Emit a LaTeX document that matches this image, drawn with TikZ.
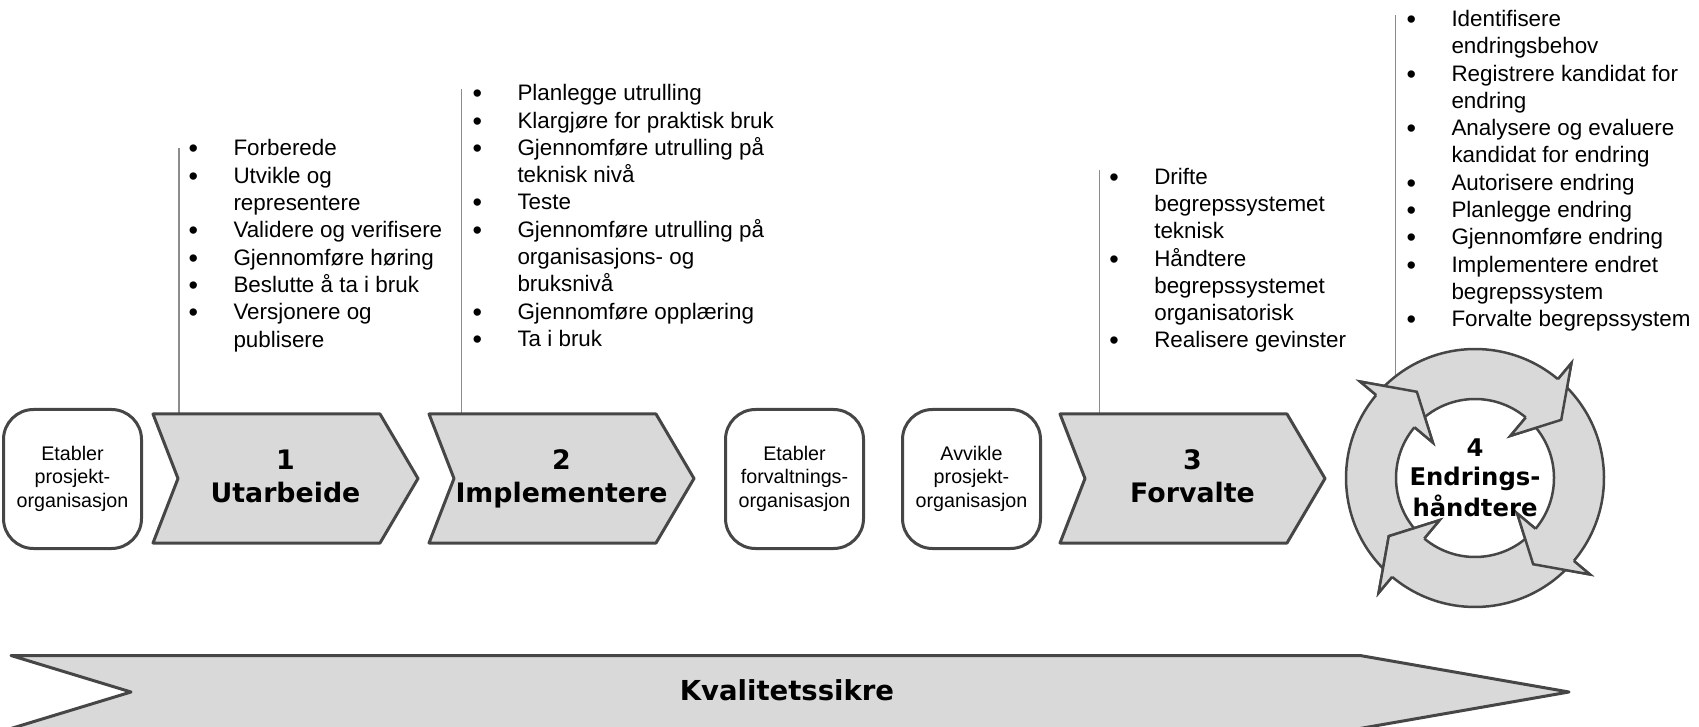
\documentclass[tikz,border=0pt]{standalone}
\usepackage{fontspec}
\setmainfont{Liberation Sans}
\newfontfamily\headfont{DejaVu Sans}
\definecolor{shapefill}{HTML}{D9D9D9}
\definecolor{edgegray}{HTML}{464646}
\definecolor{leadergray}{HTML}{8C8C8C}
% bullet with a fixed indent before the item text
\newcommand\bulletmark{\makebox[45pt][l]{\raisebox{-2pt}{\fontsize{27}{27}\selectfont\char"2022}}}
\tikzset{
  stepshape/.style={fill=shapefill, draw=edgegray, line width=3pt, line join=round},
  ringarrow/.style={fill=shapefill, draw=edgegray, line width=2.5pt, line join=miter},
  roundbox/.style={draw=edgegray, fill=white, line width=3pt, rounded corners=30pt,
    minimum width=138pt, minimum height=139pt, inner sep=0pt,
    font=\fontsize{19.7}{23.6}\selectfont},
  leaderline/.style={draw=leadergray, line width=1.3pt},
  steplabel/.style={font=\headfont\bfseries\fontsize{26.8}{33}\selectfont, inner sep=0pt, anchor=base},
  ringlabel/.style={font=\headfont\bfseries\fontsize{24.3}{29.2}\selectfont, inner sep=0pt, anchor=base},
  listtext/.style={anchor=base west, inner sep=0pt, font=\fontsize{22.4}{27.3}\selectfont},
}
\begin{document}
\begin{tikzpicture}[x=1pt, y=1pt]
\useasboundingbox (0,0) rectangle (1699,726);

% leader lines from the task lists down to their phases
\coordinate (lead1) at (179,578);   \coordinate (foot1) at (179,312);
\coordinate (lead2) at (461.6,637); \coordinate (foot2) at (461.6,312);
\coordinate (lead3) at (1099.5,556);\coordinate (foot3) at (1099.5,312);
\coordinate (lead4) at (1395.5,711);\coordinate (foot4) at (1395.5,340);
\draw[leaderline] (lead1) -- (foot1);
\draw[leaderline] (lead2) -- (foot2);
\draw[leaderline] (lead3) -- (foot3);
\draw[leaderline] (lead4) -- (foot4);

% task lists
\node[listtext] (list1) at (188.3,570) {\begin{tabular}[t]{@{}l@{}l@{}}
\bulletmark & Forberede\\
\bulletmark & Utvikle og\\
 & representere\\
\bulletmark & Validere og verifisere\\
\bulletmark & Gjennomføre høring\\
\bulletmark & Beslutte å ta i bruk\\
\bulletmark & Versjonere og\\
 & publisere
\end{tabular}};
\node[listtext] (list2) at (472.3,625.2) {\begin{tabular}[t]{@{}l@{}l@{}}
\bulletmark & Planlegge utrulling\\
\bulletmark & Klargjøre for praktisk bruk\\
\bulletmark & Gjennomføre utrulling på\\
 & teknisk nivå\\
\bulletmark & Teste\\
\bulletmark & Gjennomføre utrulling på\\
 & organisasjons- og\\
 & bruksnivå\\
\bulletmark & Gjennomføre opplæring\\
\bulletmark & Ta i bruk
\end{tabular}};
\node[listtext] (list3) at (1109.1,541.8) {\begin{tabular}[t]{@{}l@{}l@{}}
\bulletmark & Drifte\\
 & begrepssystemet\\
 & teknisk\\
\bulletmark & Håndtere\\
 & begrepssystemet\\
 & organisatorisk\\
\bulletmark & Realisere gevinster
\end{tabular}};
\node[listtext] (list4) at (1406.3,699.5) {\begin{tabular}[t]{@{}l@{}l@{}}
\bulletmark & Identifisere\\
 & endringsbehov\\
\bulletmark & Registrere kandidat for\\
 & endring\\
\bulletmark & Analysere og evaluere\\
 & kandidat for endring\\
\bulletmark & Autorisere endring\\
\bulletmark & Planlegge endring\\
\bulletmark & Gjennomføre endring\\
\bulletmark & Implementere endret\\
 & begrepssystem\\
\bulletmark & Forvalte begrepssystem
\end{tabular}};

% organisational milestones
\node[roundbox] (etabp) at (72.5,247) {\begin{tabular}{@{}c@{}}Etabler\\prosjekt-\\organisasjon\end{tabular}};
\node[roundbox] (etabf) at (794.5,247) {\begin{tabular}{@{}c@{}}Etabler\\forvaltnings-\\organisasjon\end{tabular}};
\node[roundbox] (avvik) at (971.5,247) {\begin{tabular}{@{}c@{}}Avvikle\\prosjekt-\\organisasjon\end{tabular}};

% phase chevrons
\foreach \x in {153,429,1060}{
  \path[stepshape] (\x,312) -- ++(227,0) -- ++(38,-64.5) -- ++(-38,-64.5)
    -- ++(-227,0) -- ++(25,64.5) -- cycle;
}
\node[steplabel] (phase1) at (285.5,256) {\begin{tabular}[t]{@{}c@{}}1\\Utarbeide\end{tabular}};
\node[steplabel] (phase2) at (561.5,256) {\begin{tabular}[t]{@{}c@{}}2\\Implementere\end{tabular}};
\node[steplabel] (phase3) at (1192.5,256) {\begin{tabular}[t]{@{}c@{}}3\\Forvalte\end{tabular}};

% change-management cycle: four circular arrows
\begin{scope}[shift={(1475,248)}]
  \foreach \b in {140,50,-40,-130}{
    \pgfmathsetmacro\tl{\b+86.5}
    \pgfmathsetmacro\tp{\b-16}
    \path[ringarrow] (\tl:129) arc[start angle=\tl, end angle=\b, radius=129]
      -- (\b:150) -- (\tp:104) -- (\b:55) -- (\b:79)
      arc[start angle=\b, end angle=\tl, radius=79] -- cycle;
  }
  % heads again on top of the following tails
  \foreach \b in {140,50,-40,-130}{
    \pgfmathsetmacro\tp{\b-16}
    \fill[shapefill] (\b:150) -- (\tp:104) -- (\b:55) -- cycle;
    \draw[edgegray, line width=2.5pt, line join=miter] (\b:129) -- (\b:150) -- (\tp:104) -- (\b:55) -- (\b:79);
  }
\end{scope}
\node[ringlabel] (phase4) at (1475,269.3) {\begin{tabular}[t]{@{}c@{}}4\\Endrings-\\håndtere\end{tabular}};

% quality assurance arrow along the bottom
\path[stepshape] (11,70.5) -- (1360,70.5) -- (1569,34) -- (1360,-2.5) -- (11,-2.5) -- (131,34) -- cycle;
\node[font=\headfont\bfseries\fontsize{27.5}{33}\selectfont, anchor=base, inner sep=0pt] (kval) at (787,26) {Kvalitetssikre};
\end{tikzpicture}
\end{document}
